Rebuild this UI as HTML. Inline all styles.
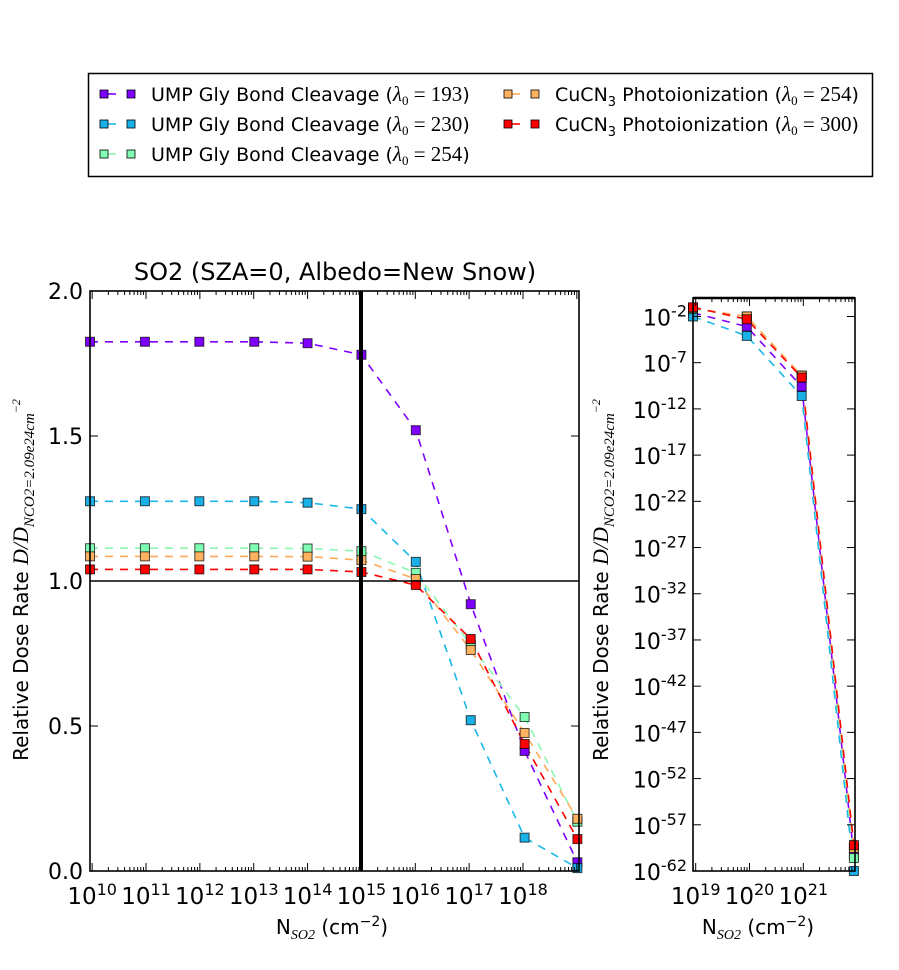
<!DOCTYPE html>
<html><head><meta charset="utf-8">
<style>
body{margin:0;background:#fff;}
svg{display:block;font-family:"DejaVu Sans","Liberation Sans",sans-serif;}
</style></head>
<body>
<svg id="chart" width="899" height="970" viewBox="0 0 899 970" xmlns="http://www.w3.org/2000/svg"></svg>
<script>
// ---- data ----
const seriesNames = ["UMP Gly Bond Cleavage (λ0=193)","UMP Gly Bond Cleavage (λ0=230)","UMP Gly Bond Cleavage (λ0=254)","CuCN3 Photoionization (λ0=254)","CuCN3 Photoionization (λ0=300)"];
const seriesColors = ["#8000ff","#18b0e6","#80ffb4","#ffb360","#ff0000"];
const lineColors = ["#8000ff","#1ab8ea","#8cf7b0","#ffaa5a","#ff0000"];
// left panel: log10 of N_SO2 and relative dose rate values
const leftLogN = [10.0,11.02,12.03,13.05,14.04,15.04,16.05,17.07,18.07,19.05];
const leftPurple = [1.825,1.825,1.825,1.825,1.82,1.78,1.52,0.92,0.414,0.03];
const leftBlue = [1.275,1.275,1.275,1.275,1.27,1.248,1.066,0.52,0.115,0.01];
const leftGreen = [1.113,1.113,1.113,1.113,1.112,1.103,1.028,0.78,0.531,0.17];
const leftOrange = [1.085,1.085,1.085,1.085,1.084,1.072,1.007,0.762,0.476,0.18];
const leftRed = [1.04,1.04,1.04,1.04,1.04,1.031,0.986,0.80,0.438,0.11];
// right panel: log10 of N_SO2 and log10 of dose rate
const rightLogN = [19.03,20.03,21.05,22.02];
const rightPurple = [-1.6,-3.1,-9.6,-60.3];
const rightBlue = [-2.0,-4.1,-10.6,-62.0];
const rightGreen = [-1.2,-2.0,-8.4,-60.6];
const rightOrange = [-1.1,-2.0,-8.4,-59.5];
const rightRed = [-1.0,-2.3,-8.6,-59.2];
const leftYTicks = [0.0,0.5,1.0,1.5,2.0];
const leftYTickLabels = ["0.0","0.5","1.0","1.5","2.0"];
const leftXTicks = [10,11,12,13,14,15,16,17,18];
const rightXTicks = [19,20,21];
const rightYTicks = [-2,-7,-12,-17,-22,-27,-32,-37,-42,-47,-52,-57,-62];

const NS="http://www.w3.org/2000/svg";
const svg=document.getElementById('chart');
function mk(tag,attrs,parent){const e=document.createElementNS(NS,tag);for(const k in attrs)e.setAttribute(k,attrs[k]);(parent||svg).appendChild(e);return e;}

const L={x0:90,x1:579,y0:291,y1:871,xmin:10,xmax:19.08,ymin:0,ymax:2};
const R={x0:693,x1:855,y0:298,y1:871,xmin:19.03,xmax:22.04,ymin:-62,ymax:0};
function sx(p,v){return p.x0+(v-p.xmin)/(p.xmax-p.xmin)*(p.x1-p.x0);}
function sy(p,v){return p.y1-(v-p.ymin)/(p.ymax-p.ymin)*(p.y1-p.y0);}

function drawPanel(p,name,xs,ys){
  const g=mk('g',{});
  
  
  const order=[0,1,2,3,4];
  order.forEach(i=>{
    let d='';
    xs.forEach((x,j)=>{d+=(j?'L':'M')+sx(p,x).toFixed(1)+','+sy(p,ys[i][j]).toFixed(1);});
    const l=mk('path',{d:d,fill:'none',stroke:lineColors[i],'stroke-width':1.6,'stroke-dasharray':'8,7'},g);
    
    
  });
  order.forEach(i=>{
    xs.forEach((x,j)=>{
      const m=mk('rect',{x:sx(p,x)-4.5,y:sy(p,ys[i][j])-4.5,width:9,height:9,fill:seriesColors[i],stroke:'#000','stroke-opacity':0.7,'stroke-width':1},g);
      
      
    });
  });
  return g;
}

const gL=drawPanel(L,'left-panel',leftLogN,[leftPurple,leftBlue,leftGreen,leftOrange,leftRed]);
mk('line',{x1:L.x0,x2:L.x1,y1:sy(L,1),y2:sy(L,1),stroke:'#000','stroke-width':1.6},gL);
mk('line',{x1:361,x2:361,y1:L.y0,y2:L.y1,stroke:'#000','stroke-width':4},gL);
mk('rect',{x:L.x0,y:L.y0,width:L.x1-L.x0,height:L.y1-L.y0,fill:'none',stroke:'#000','stroke-width':1.6},gL);
leftYTicks.forEach((v,i)=>{
  const y=sy(L,v);
  mk('line',{x1:L.x0,x2:L.x0+8,y1:y,y2:y,stroke:'#000'},gL);
  mk('line',{x1:L.x1,x2:L.x1-8,y1:y,y2:y,stroke:'#000'},gL);
  const t=mk('text',{x:L.x0-7,y:y+8,'text-anchor':'end','font-size':22},gL);
  t.textContent=leftYTickLabels[i];
});
function logXTicks(p,g,majors,off){
  for(let d=Math.floor(p.xmin)-1;d<=Math.ceil(p.xmax);d++){
    for(let k=1;k<10;k++){
      const v=d+Math.log10(k)+off;
      if(v<p.xmin-1e-6||v>p.xmax+1e-6)continue;
      const x=sx(p,v);const len=k==1?8:4;
      mk('line',{x1:x,x2:x,y1:p.y1,y2:p.y1-len,stroke:'#000'},g);
      mk('line',{x1:x,x2:x,y1:p.y0,y2:p.y0+len,stroke:'#000'},g);
    }
  }
  majors.forEach(m=>{
    const t=mk('text',{x:sx(p,m+off),y:p.y1+33,'text-anchor':'middle','font-size':23},g);
    t.innerHTML='10<tspan dy="-9" font-size="16">'+m+'</tspan>';
  });
}
logXTicks(L,gL,leftXTicks,0.04);
const tt=mk('text',{x:335,y:280,'text-anchor':'middle','font-size':24},gL);
tt.textContent='SO2 (SZA=0, Albedo=New Snow)';

function xlabel(x,g){const t=mk('text',{x:x,y:934,'text-anchor':'middle','font-size':20},g);
 t.innerHTML='N<tspan dy="5" font-size="14" font-style="italic" font-family="Liberation Serif">SO2</tspan><tspan dy="-5"> (cm</tspan><tspan dy="-8" font-size="14">−2</tspan><tspan dy="8">)</tspan>';
 }
xlabel(332,gL);
function ylabel(x,y,g){const t=mk('text',{x:0,y:0,'text-anchor':'middle','font-size':20,transform:'translate('+x+','+y+') rotate(-90)'},g);
 t.innerHTML='Relative Dose Rate <tspan font-family="Liberation Serif" font-style="italic" font-size="22">D/D</tspan><tspan dy="6" font-family="Liberation Serif" font-style="italic" font-size="15">NCO2=2.09e24cm</tspan><tspan dy="-14" font-family="Liberation Serif" font-style="italic" font-size="12">−2</tspan>';
 }
ylabel(28,580,gL);

const gR=drawPanel(R,'right-panel',rightLogN,[rightPurple,rightBlue,rightGreen,rightOrange,rightRed]);
mk('line',{x1:R.x0,x2:R.x1,y1:sy(R,0),y2:sy(R,0),stroke:'#000','stroke-width':2.5},gR);
mk('rect',{x:R.x0,y:R.y0,width:R.x1-R.x0,height:R.y1-R.y0,fill:'none',stroke:'#000','stroke-width':1.6},gR);
rightYTicks.forEach(v=>{
  const y=sy(R,v);
  mk('line',{x1:R.x0,x2:R.x0+8,y1:y,y2:y,stroke:'#000'},gR);
  mk('line',{x1:R.x1,x2:R.x1-8,y1:y,y2:y,stroke:'#000'},gR);
  const t=mk('text',{x:R.x0-6,y:y+9,'text-anchor':'end','font-size':22},gR);
  t.innerHTML='10<tspan dy="-9" font-size="16">'+v+'</tspan>';
});
logXTicks(R,gR,rightXTicks,0.08);
xlabel(758,gR);
ylabel(608,580,gR);

const lg=mk('g',{});

mk('rect',{x:88.5,y:73.5,width:784,height:103,fill:'#fff',stroke:'#000','stroke-width':1.5},lg);
const legPos=[[104,94],[104,124],[104,154],[508,94],[508,124]];
seriesNames.forEach((n,i)=>{
  const [x,y]=legPos[i];
  const e=mk('g',{},lg);
  
  mk('line',{x1:x,x2:x+12,y1:y,y2:y,stroke:lineColors[i],'stroke-width':1.6},e);
  mk('rect',{x:x-4,y:y-4,width:8,height:8,fill:seriesColors[i],stroke:'#000','stroke-width':0.8},e);
  mk('rect',{x:x+23,y:y-4,width:8,height:8,fill:seriesColors[i],stroke:'#000','stroke-width':0.8},e);
  const t=mk('text',{x:x+47,y:y+7,'font-size':19},e);
  const isCu=i>=3;
  const lam=n.match(/=(\d+)/)[1];
  t.innerHTML=(isCu?'CuCN<tspan dy="5" font-size="13">3</tspan><tspan dy="-5"> Photoionization (</tspan>':'UMP Gly Bond Cleavage (')+
   '<tspan font-family="Liberation Serif" font-style="italic" font-size="21">λ</tspan><tspan dy="4" font-size="13" font-family="Liberation Serif">0</tspan><tspan dy="-4" font-family="Liberation Serif" font-size="21"> = '+lam+'</tspan>)';
});
</script>
</body></html>
